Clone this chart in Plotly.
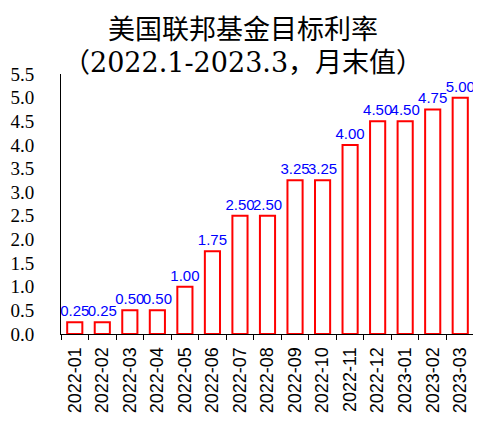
import plotly.graph_objects as go

months = ["2022-01", "2022-02", "2022-03", "2022-04", "2022-05", "2022-06", "2022-07",
          "2022-08", "2022-09", "2022-10", "2022-11", "2022-12", "2023-01", "2023-02", "2023-03"]
rates = [0.25, 0.25, 0.50, 0.50, 1.00, 1.75, 2.50, 2.50, 3.25, 3.25, 4.00, 4.50, 4.50, 4.75, 5.00]
y_ticks = [0, 0.5, 1, 1.5, 2, 2.5, 3, 3.5, 4, 4.5, 5, 5.5]
title_lines = ["美国联邦基金目标利率", "（2022.1-2023.3，月末值）"]

fig = go.Figure()
fig.add_trace(go.Bar(
    x=months, y=rates,
    marker=dict(color="white", line=dict(color="#ff0000", width=2)),
    text=[f"{v:.2f}" for v in rates],
    textposition="outside",
    constraintext="none",
    cliponaxis=False,
    textfont=dict(family="Liberation Sans", size=15, color="#0000ff"),
))

# title as two annotations so the lines sit where the reference has them
fig.add_annotation(text=title_lines[0], xref="paper", yref="paper", x=0.44, y=1.178,
                   xanchor="center", yanchor="middle", showarrow=False,
                   font=dict(family="Noto Sans CJK SC", size=27, color="black"))
fig.add_annotation(text=title_lines[1], xref="paper", yref="paper", x=0.44, y=1.045,
                   xanchor="center", yanchor="middle", showarrow=False,
                   font=dict(family="DejaVu Serif, Noto Sans CJK SC", size=27, color="black"))

# the page puts the figure 8px down, so height is 416 to fit the window
fig.update_layout(
    width=481, height=416,
    margin=dict(l=53, r=15, t=66, b=90, autoexpand=False),
    paper_bgcolor="white", plot_bgcolor="white",
    bargap=0.45,
    showlegend=False,
)
fig.update_xaxes(
    type="category", showline=True, linecolor="black", linewidth=1,
    ticks="outside", tickson="boundaries", ticklen=5, tickcolor="black",
    tickangle=-90, ticklabelstandoff=5,
    tickfont=dict(family="Liberation Sans", size=18, color="black"),
    showgrid=False, automargin=False,
)
fig.update_yaxes(
    range=[0, 5.5], tickvals=y_ticks, tickformat=".1f",
    showline=True, linecolor="black", linewidth=1,
    ticks="", ticklabelstandoff=22,
    tickfont=dict(family="Liberation Serif, DejaVu Serif, serif", size=19, color="black"),
    showgrid=False, zeroline=False, automargin=False,
)

fig.write_html("out.html")
